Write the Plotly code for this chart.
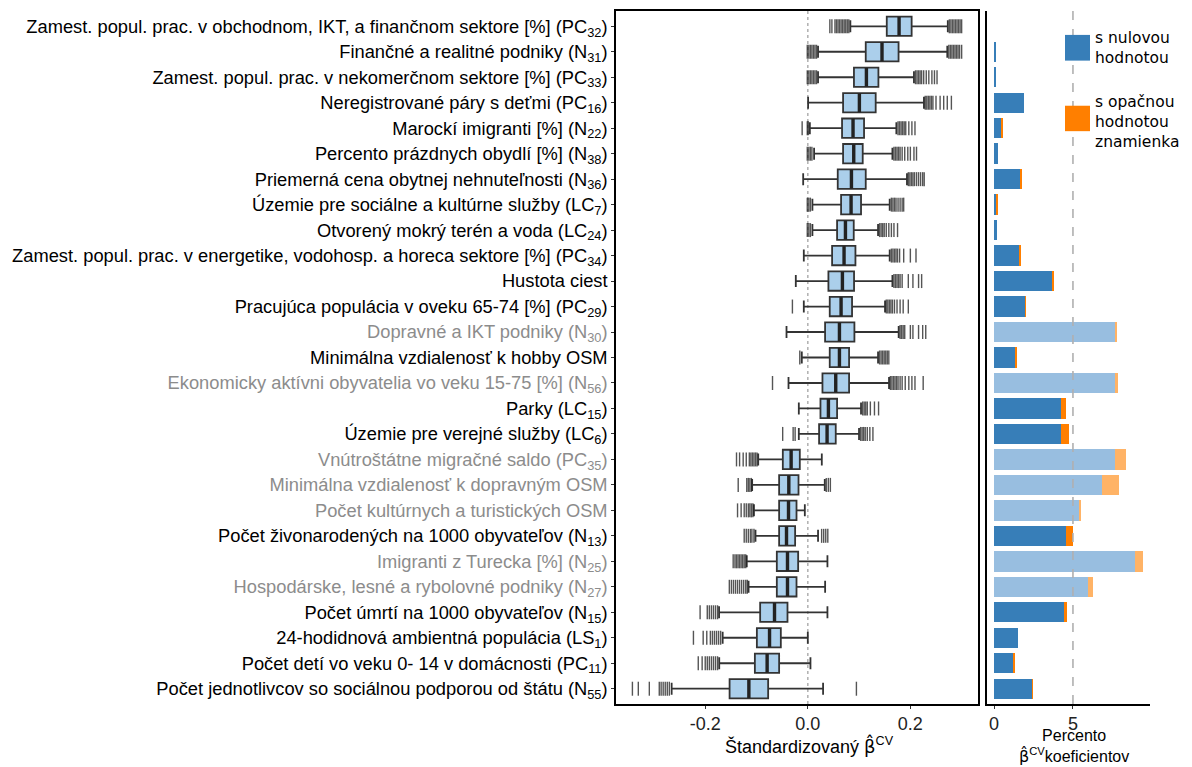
import plotly.graph_objects as go

# Variables, top to bottom
labels = [
    "Zamest. popul. prac. v obchodnom, IKT, a finančnom sektore [%] (PC<sub>32</sub>)",
    "Finančné a realitné podniky (N<sub>31</sub>)",
    "Zamest. popul. prac. v nekomerčnom sektore [%] (PC<sub>33</sub>)",
    "Neregistrované páry s deťmi (PC<sub>16</sub>)",
    "Marockí imigranti [%] (N<sub>22</sub>)",
    "Percento prázdnych obydlí [%] (N<sub>38</sub>)",
    "Priemerná cena obytnej nehnuteľnosti (N<sub>36</sub>)",
    "Územie pre sociálne a kultúrne služby (LC<sub>7</sub>)",
    "Otvorený mokrý terén a voda (LC<sub>24</sub>)",
    "Zamest. popul. prac. v energetike, vodohosp. a horeca sektore [%] (PC<sub>34</sub>)",
    "Hustota ciest",
    "Pracujúca populácia v oveku 65-74 [%] (PC<sub>29</sub>)",
    "Dopravné a IKT podniky (N<sub>30</sub>)",
    "Minimálna vzdialenosť k hobby OSM",
    "Ekonomicky aktívni obyvatelia vo veku 15-75 [%] (N<sub>56</sub>)",
    "Parky (LC<sub>15</sub>)",
    "Územie pre verejné služby (LC<sub>6</sub>)",
    "Vnútroštátne migračné saldo (PC<sub>35</sub>)",
    "Minimálna vzdialenosť k dopravným OSM",
    "Počet kultúrnych a turistických OSM",
    "Počet živonarodených na 1000 obyvateľov (N<sub>13</sub>)",
    "Imigranti z Turecka [%] (N<sub>25</sub>)",
    "Hospodárske, lesné a rybolovné podniky (N<sub>27</sub>)",
    "Počet úmrtí na 1000 obyvateľov (N<sub>15</sub>)",
    "24-hodidnová ambientná populácia (LS<sub>1</sub>)",
    "Počet detí vo veku 0- 14 v domácnosti (PC<sub>11</sub>)",
    "Počet jednotlivcov so sociálnou podporou od štátu (N<sub>55</sub>)",
]
# Variables that are not significant (drawn muted)
muted = [0, 0, 0, 0, 0, 0, 0, 0, 0, 0, 0, 0, 1, 0, 1, 0, 0, 1, 1, 1, 0, 1, 1, 0, 0, 0, 0]

# Standardized CV coefficients: box statistics
lower_whisker = [0.083, 0.020, 0.020, 0.0006, 0.004, 0.0123, -0.009, 0.009, 0.009, -0.0078,
                 -0.0234, -0.0078, -0.0415, -0.0117, -0.0376, -0.0175, -0.0175, -0.0967, -0.1085, -0.105,
                 -0.102, -0.119, -0.1155, -0.173, -0.166, -0.1727, -0.2655]
q1 = [0.154, 0.113, 0.090, 0.0688, 0.0668, 0.0688, 0.0584, 0.0649, 0.0571, 0.0474,
      0.0402, 0.0428, 0.0337, 0.0428, 0.0286, 0.0247, 0.022, -0.0487, -0.0559, -0.0559,
      -0.0559, -0.0604, -0.0604, -0.0929, -0.0993, -0.1032, -0.1525]
median = [0.178, 0.1447, 0.1143, 0.1006, 0.0882, 0.0896, 0.0851, 0.0844, 0.0734, 0.0707,
          0.0675, 0.0649, 0.0617, 0.0617, 0.0545, 0.0402, 0.0376, -0.0325, -0.037, -0.0376,
          -0.0415, -0.0396, -0.0396, -0.0649, -0.0746, -0.0793, -0.1149]
q3 = [0.2025, 0.177, 0.1377, 0.1324, 0.1097, 0.1071, 0.113, 0.1038, 0.0896, 0.0929,
      0.0902, 0.0863, 0.0909, 0.0805, 0.0805, 0.0571, 0.0545, -0.0156, -0.0181, -0.022,
      -0.0247, -0.0188, -0.022, -0.0396, -0.0526, -0.0559, -0.0773]
upper_whisker = [0.273, 0.272, 0.207, 0.2265, 0.1727, 0.165, 0.1934, 0.1597, 0.137, 0.1597,
                 0.165, 0.1506, 0.1772, 0.137, 0.1584, 0.1038, 0.0999, 0.0273, 0.0331, -0.0058,
                 0.020, 0.0383, 0.0338, 0.0383, 0.0, 0.0052, 0.0298]
outliers = [
    [0.043, 0.047, 0.053, 0.056, 0.059, 0.062, 0.065, 0.068, 0.071, 0.074, 0.077, 0.080,
     0.276, 0.279, 0.282, 0.285, 0.288, 0.291, 0.294, 0.297, 0.300],
    [-0.001, 0.002, 0.005, 0.008, 0.011, 0.014, 0.017,
     0.275, 0.278, 0.281, 0.284, 0.287, 0.290, 0.293, 0.296, 0.300],
    [-0.001, 0.002, 0.005, 0.008, 0.011, 0.014, 0.017,
     0.210, 0.213, 0.216, 0.219, 0.222, 0.226, 0.231, 0.236, 0.242, 0.247, 0.252],
    [0.229, 0.232, 0.235, 0.238, 0.241, 0.244, 0.250, 0.258, 0.265, 0.272, 0.280],
    [-0.011, -0.001, 0.001, 0.176, 0.179, 0.182, 0.185, 0.188, 0.191, 0.197, 0.203, 0.209],
    [-0.001, 0.002, 0.005, 0.008, 0.168, 0.171, 0.174, 0.177, 0.180, 0.184, 0.189, 0.195,
     0.200, 0.207, 0.212],
    [0.196, 0.199, 0.202, 0.205, 0.208, 0.212, 0.216, 0.220, 0.224, 0.227],
    [-0.001, 0.002, 0.005, 0.163, 0.166, 0.169, 0.172, 0.176, 0.180, 0.184, 0.187],
    [-0.001, 0.002, 0.005, 0.140, 0.143, 0.146, 0.149, 0.153, 0.158, 0.163, 0.168, 0.175],
    [0.163, 0.166, 0.169, 0.172, 0.175, 0.179, 0.187, 0.200, 0.211],
    [0.168, 0.171, 0.174, 0.177, 0.180, 0.184, 0.196, 0.205, 0.216, 0.222],
    [-0.030, 0.153, 0.156, 0.159, 0.162, 0.165, 0.169, 0.174, 0.180, 0.186, 0.196],
    [0.180, 0.183, 0.186, 0.189, 0.200, 0.205, 0.216, 0.224, 0.230],
    [-0.0156, 0.140, 0.143, 0.146, 0.149, 0.152, 0.155, 0.158],
    [-0.0688, 0.161, 0.164, 0.167, 0.170, 0.173, 0.176, 0.180, 0.184, 0.190, 0.197, 0.203,
     0.209, 0.225],
    [0.107, 0.110, 0.113, 0.116, 0.122, 0.130, 0.138],
    [-0.049, -0.0286, -0.0247, 0.103, 0.106, 0.109, 0.112, 0.116, 0.121, 0.127],
    [-0.139, -0.133, -0.126, -0.120, -0.114, -0.111, -0.108, -0.105, -0.102, -0.099],
    [-0.1357, -0.119, -0.116, -0.113, -0.110, 0.036, 0.040, 0.044],
    [-0.137, -0.130, -0.124, -0.120, -0.116, -0.113, -0.110, -0.107],
    [-0.124, -0.120, -0.116, -0.112, -0.109, -0.105, 0.027, 0.031, 0.035, 0.039],
    [-0.1455, -0.142, -0.139, -0.136, -0.133, -0.130, -0.127, -0.124, -0.121],
    [-0.153, -0.149, -0.145, -0.141, -0.137, -0.133, -0.129, -0.125, -0.121, -0.118],
    [-0.210, -0.196, -0.192, -0.188, -0.184, -0.180, -0.176],
    [-0.223, -0.204, -0.197, -0.190, -0.186, -0.182, -0.178, -0.174, -0.170],
    [-0.2136, -0.206, -0.200, -0.196, -0.192, -0.188, -0.184, -0.180, -0.176],
    [-0.342, -0.3305, -0.309, -0.2896, -0.286, -0.282, -0.278, -0.274, -0.270, 0.0948],
]

# Percent of CV coefficients: zero-valued and sign-flipped
pct_zero = [0, 0.13, 0.12, 1.89, 0.44, 0.25, 1.64, 0.10, 0.19, 1.60,
            3.66, 1.96, 7.64, 1.33, 7.64, 4.23, 4.23, 7.64, 6.82, 5.37,
            4.55, 8.91, 5.94, 4.42, 1.52, 1.22, 2.40]
pct_opposite = [0, 0, 0, 0, 0.06, 0, 0.06, 0.08, 0, 0.04,
                0.13, 0.04, 0.13, 0.13, 0.19, 0.32, 0.50, 0.69, 1.07, 0.13,
                0.44, 0.50, 0.32, 0.19, 0, 0.04, 0.04]

x_ticks = [-0.2, 0.0, 0.2]
x_ticktext = ["-0.2", "0.0", "0.2"]
x2_ticks = [0, 5]

BLUE, ORANGE = "#377eb8", "#ff7f00"
BLUE_LIGHT, ORANGE_LIGHT = "#98bee0", "#ffb366"
BOX_FILL = "#abcfeb"
GREY_TEXT = "#8c8c8c"
FONT = "Liberation Sans, Arial, sans-serif"
LEG_FONT = "DejaVu Sans, sans-serif"
BETA_HAT = '<span style="font-family:DejaVu Sans">β\u0302</span>'

rows = list(range(len(labels)))
ticktext = [f'<span style="color:{GREY_TEXT}">{t}</span>' if m else t
            for t, m in zip(labels, muted)]

fig = go.Figure()

# Boxplots from the summary statistics
fig.add_trace(go.Box(
    y=rows, q1=q1, median=median, q3=q3,
    lowerfence=lower_whisker, upperfence=upper_whisker,
    orientation="h", width=0.76, whiskerwidth=0.62, boxpoints=False,
    fillcolor=BOX_FILL, line=dict(color="#333333", width=1.8),
    xaxis="x", yaxis="y", showlegend=False, hoverinfo="skip",
))

# Thick median bars
mx, my = [], []
for r, m in zip(rows, median):
    mx += [m, m, None]
    my += [r - 0.37, r + 0.37, None]
fig.add_trace(go.Scatter(x=mx, y=my, mode="lines", line=dict(color="#222222", width=3.4),
                         xaxis="x", yaxis="y", showlegend=False, hoverinfo="skip"))

# Outliers as vertical ticks
ox, oy = [], []
for r, vals in zip(rows, outliers):
    ox += vals
    oy += [r] * len(vals)
fig.add_trace(go.Scatter(
    x=ox, y=oy, mode="markers",
    marker=dict(symbol="line-ns", size=10, line=dict(color="rgba(20,20,20,0.72)", width=1.4)),
    xaxis="x", yaxis="y", showlegend=False, hoverinfo="skip",
))

# Stacked percentage bars
fig.add_trace(go.Bar(
    y=rows, x=pct_zero, orientation="h", width=0.8,
    marker=dict(color=[BLUE_LIGHT if m else BLUE for m in muted], line=dict(width=0)),
    xaxis="x2", yaxis="y2", showlegend=False, hoverinfo="skip",
))
fig.add_trace(go.Bar(
    y=rows, x=pct_opposite, orientation="h", width=0.8,
    marker=dict(color=[ORANGE_LIGHT if m else ORANGE for m in muted], line=dict(width=0)),
    xaxis="x2", yaxis="y2", showlegend=False, hoverinfo="skip",
))

# Reference lines
fig.add_shape(type="line", xref="x", yref="y domain", x0=0, x1=0, y0=0, y1=1,
              line=dict(color="#b4b4b4", width=1.6, dash="dot"), layer="below")
fig.add_shape(type="line", xref="x2", yref="y2 domain", x0=5, x1=5, y0=0, y1=1,
              line=dict(color="#b0b0b0", width=1.6, dash="dash"), layer="above")

# Legend
fig.add_shape(type="rect", xref="paper", yref="paper", x0=0.8408, x1=0.8876, y0=0.9284, y1=0.9655,
              fillcolor=BLUE, line=dict(width=0), layer="above")
fig.add_shape(type="rect", xref="paper", yref="paper", x0=0.8408, x1=0.8876, y0=0.8266, y1=0.8633,
              fillcolor=ORANGE, line=dict(width=0), layer="above")
fig.add_annotation(text="s nulovou<br>hodnotou", xref="paper", yref="paper", x=0.8932, y=0.9472,
                   xanchor="left", yanchor="middle", align="left", showarrow=False,
                   font=dict(family=LEG_FONT, size=15.5, color="black"))
fig.add_annotation(text="s opačnou<br>hodnotou<br>znamienka", xref="paper", yref="paper",
                   x=0.8932, y=0.8400, xanchor="left", yanchor="middle", align="left",
                   showarrow=False, font=dict(family=LEG_FONT, size=15.5, color="black"))

# Axis titles
fig.add_annotation(text=f"Štandardizovaný {BETA_HAT}<sup>CV</sup>", xref="paper", yref="paper",
                   x=0.362, y=-0.040, xanchor="center", yanchor="top", showarrow=False,
                   font=dict(family=FONT, size=18, color="black"))
fig.add_annotation(text=f"Percento<br>{BETA_HAT}<sup>CV</sup>koeficientov", xref="paper",
                   yref="paper", x=0.857, y=-0.0906, xanchor="center", yanchor="bottom",
                   align="center", showarrow=False, borderpad=0,
                   font=dict(family=FONT, size=16, color="black"))

axis_common = dict(showgrid=False, zeroline=False, linecolor="black", linewidth=1.5,
                   tickcolor="#333333", ticklen=3, tickwidth=1.2)

fig.update_layout(
    width=1192, height=767,
    margin=dict(l=616, r=42, t=9, b=63),
    paper_bgcolor="white", plot_bgcolor="white",
    font=dict(family=FONT, size=18, color="black"),
    barmode="stack",
    xaxis=dict(domain=[0, 0.678], range=[-0.374, 0.332], tickvals=x_ticks, ticktext=x_ticktext,
               showline=True, mirror=True, ticks="outside", anchor="y",
               tickfont=dict(size=18, color="#222222"), **axis_common),
    yaxis=dict(range=[26.6, -0.6], tickvals=rows, ticktext=ticktext, showline=True, mirror=True,
               ticks="outside", anchor="x", tickfont=dict(size=18.3, color="black"), **axis_common),
    xaxis2=dict(domain=[0.694, 1], range=[-0.47, 9.88], tickvals=x2_ticks, showline=True,
                ticks="outside", anchor="y2", tickfont=dict(size=18, color="#222222"), **axis_common),
    yaxis2=dict(range=[26.6, -0.6], showticklabels=False, showline=True, ticks="",
                anchor="x2", **axis_common),
)

fig.write_html("out.html")
